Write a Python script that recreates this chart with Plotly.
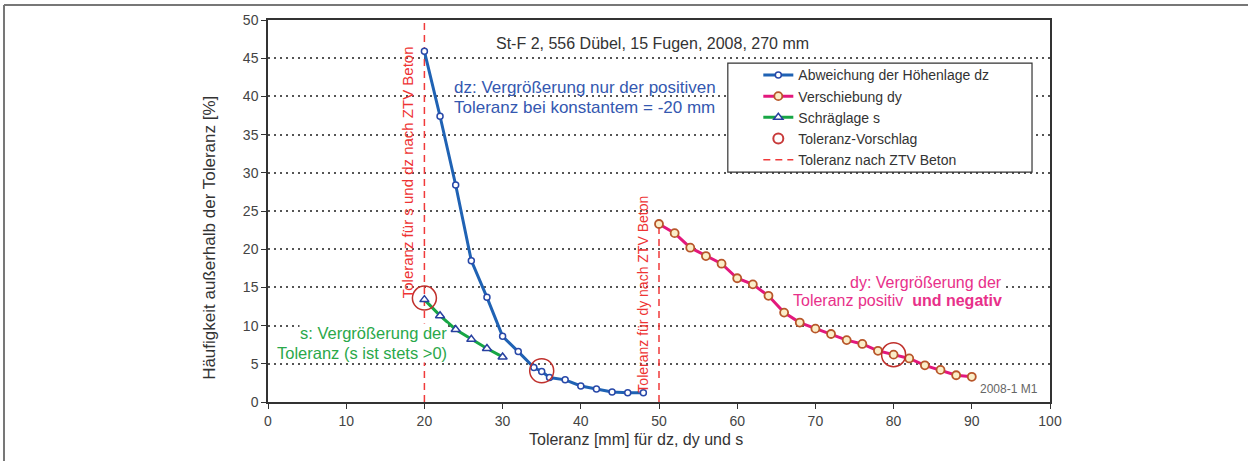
import plotly.graph_objects as go

# ---------------- data ----------------
dz_x = [20, 22, 24, 26, 28, 30, 32, 34, 35, 36, 38, 40, 42, 44, 46, 48]
dz_y = [45.9, 37.4, 28.4, 18.5, 13.7, 8.6, 6.6, 4.5, 4.0, 3.2, 2.9, 2.1, 1.7, 1.3, 1.2, 1.2]

dy_x = [50, 52, 54, 56, 58, 60, 62, 64, 66, 68, 70, 72, 74, 76, 78, 80, 82, 84, 86, 88, 90]
dy_y = [23.3, 22.1, 20.2, 19.1, 18.1, 16.2, 15.4, 13.9, 11.7, 10.4, 9.6, 8.9, 8.1, 7.6, 6.7, 6.2, 5.7, 4.8, 4.2, 3.5, 3.3]

s_x = [20, 22, 24, 26, 28, 30]
s_y = [13.4, 11.3, 9.5, 8.2, 7.0, 5.9]

prop_x = [20, 35, 80]
prop_y = [13.6, 4.1, 6.2]

ztv_x = [20, 20, None, 50, 50]
ztv_y = [0, 50, None, 0, 23.4]

FONT = "Liberation Sans, Arial, sans-serif"
BLUE = "#1f62b4"
PINK = "#e3187c"
GREEN = "#17a645"

fig = go.Figure()

fig.add_trace(go.Scatter(
    x=ztv_x, y=ztv_y, mode="lines", name="Toleranz nach ZTV Beton",
    line=dict(color="#f03a3a", width=1.5, dash="7px,5px"), showlegend=False))

fig.add_trace(go.Scatter(
    x=dz_x, y=dz_y, mode="lines+markers", name="Abweichung der Höhenlage dz",
    line=dict(color=BLUE, width=3),
    marker=dict(symbol="circle", size=6, color="white", line=dict(color="#2848a8", width=1.5))))

fig.add_trace(go.Scatter(
    x=dy_x, y=dy_y, mode="lines+markers", name="Verschiebung dy",
    line=dict(color=PINK, width=3),
    marker=dict(symbol="circle", size=8, color="#fbeec8", line=dict(color="#b8562a", width=1.8))))

fig.add_trace(go.Scatter(
    x=s_x, y=s_y, mode="lines+markers", name="Schräglage s",
    line=dict(color=GREEN, width=3),
    marker=dict(symbol="triangle-up", size=8, color="white", line=dict(color="#2840a0", width=1.5))))

fig.add_trace(go.Scatter(
    x=prop_x, y=prop_y, mode="markers", name="Toleranz-Vorschlag", showlegend=False,
    marker=dict(symbol="circle-open", size=24, color="#c0302c", line=dict(width=1.5))))

# legend-only entries
fig.add_trace(go.Scatter(
    x=[None], y=[None], mode="markers", name="Toleranz-Vorschlag",
    marker=dict(symbol="circle-open", size=10, color="#c83a3a", line=dict(width=2))))
fig.add_trace(go.Scatter(
    x=[None], y=[None], mode="lines", name="Toleranz nach ZTV Beton",
    line=dict(color="#f03a3a", width=1.5, dash="7px,5px")))

ann = []
def txt(x, y, text, color, size=14, xanchor="center", textangle=0, bg=None, xref="x", yref="y"):
    d = dict(x=x, y=y, xref=xref, yref=yref, text=text, showarrow=False,
             font=dict(family=FONT, size=size, color=color), xanchor=xanchor,
             yanchor="middle", textangle=textangle)
    if bg:
        d["bgcolor"] = bg
        d["borderpad"] = 0
    ann.append(d)

txt(49.2, 46.9, "St-F 2, 556 Dübel, 15 Fugen, 2008, 270 mm", "#333333", 16)
txt(23.5, 41.2, "dz: Vergrößerung nur der positiven", "#3458b0", 17, xanchor="left")
txt(23.5, 38.6, "Toleranz bei konstantem = -20 mm", "#3458b0", 17, xanchor="left")
txt(23.0, 9.0, "s: Vergrößerung der", "#2aa84a", 16.5, xanchor="right", bg="white")
txt(23.0, 6.4, "Toleranz (s ist stets >0)", "#2aa84a", 16.5, xanchor="right", bg="white")
txt(94.0, 15.6, "dy: Vergrößerung der", "#e8308a", 16, xanchor="right", bg="white")
txt(94.0, 13.35, "Toleranz positiv\u00a0 <b>und negativ</b>", "#e8308a", 16, xanchor="right", bg="white")
txt(98.7, 1.7, "2008-1 M1", "#666666", 12, xanchor="right")
txt(17.8, 30.1, "Toleranz für s und dz nach ZTV Beton", "#ee3333", 15, textangle=-90)
txt(48.0, 14.1, "Toleranz für dy nach ZTV Beton", "#ee3333", 14, textangle=-90)
txt(0.471, -0.097, "Toleranz [mm] für dz, dy und s", "#333333", 16, xref="paper", yref="paper")
txt(-0.074, 0.43, "Häufigkeit außerhalb der Toleranz [%]", "#333333", 17, textangle=-90,
    xref="paper", yref="paper")

shapes = [
    # outer frame (top and left edges of the figure box)
    dict(type="line", xref="paper", yref="paper", x0=-0.3376, x1=1.26, y0=1.0393, y1=1.0393,
         line=dict(color="#777777", width=2)),
    dict(type="line", xref="paper", yref="paper", x0=-0.3376, x1=-0.3376, y0=1.0393, y1=-0.16,
         line=dict(color="#777777", width=2)),
    # legend frame (white box above the grid, below the legend itself)
    dict(type="rect", xref="paper", yref="paper", x0=0.588, x1=0.977, y0=0.602, y1=0.887,
         line=dict(color="#333333", width=1.2), fillcolor="white", layer="above"),
]

fig.update_layout(
    width=1248, height=461,
    margin=dict(l=268, r=198, t=20, b=59),
    paper_bgcolor="white", plot_bgcolor="white",
    font=dict(family=FONT, size=14, color="#444444"),
    annotations=ann, shapes=shapes,
    legend=dict(x=0.627, y=0.897, xanchor="left", yanchor="top",
                borderwidth=0, bgcolor="rgba(0,0,0,0)",
                font=dict(family=FONT, size=14, color="#333333"),
                tracegroupgap=0),
    xaxis=dict(range=[0, 100], tickvals=list(range(0, 101, 10)), showgrid=False,
               showline=True, linecolor="#333333", linewidth=1.5, mirror=True,
               ticks="outside", ticklen=5, tickcolor="#333333", zeroline=False,
               tickfont=dict(size=14, color="#444444")),
    yaxis=dict(range=[0, 50], tickvals=list(range(0, 51, 5)), showgrid=True,
               gridcolor="#555555", griddash="2px,4px", gridwidth=1.5,
               showline=True, linecolor="#333333", linewidth=1.5, mirror=True,
               ticks="outside", ticklen=5, tickcolor="#333333", zeroline=False,
               tickfont=dict(size=14, color="#444444")),
)

fig.write_html("out.html")
